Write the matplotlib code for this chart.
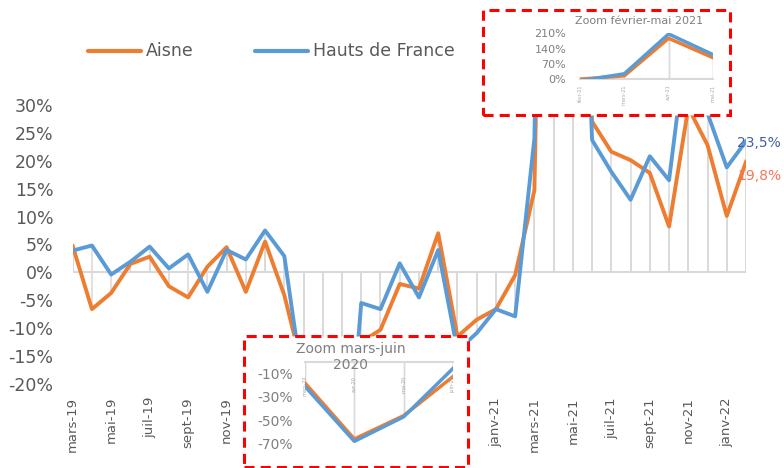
import matplotlib

matplotlib.use("Agg")
import matplotlib.pyplot as plt
import numpy as np
from matplotlib.lines import Line2D
from matplotlib.patches import Rectangle

# monthly change vs same month of previous year (%)
MONTHS = [
    "mars-19", "avr-19", "mai-19", "juin-19", "juil-19", "août-19", "sept-19",
    "oct-19", "nov-19", "déc-19", "janv-20", "févr-20", "mars-20", "avr-20",
    "mai-20", "juin-20", "juil-20", "août-20", "sept-20", "oct-20", "nov-20",
    "déc-20", "janv-21", "févr-21", "mars-21", "avr-21", "mai-21", "juin-21",
    "juil-21", "août-21", "sept-21", "oct-21", "nov-21", "déc-21", "janv-22",
    "févr-22",
]
AISNE = [
    4.7, -6.6, -3.7, 1.5, 2.8, -2.5, -4.5, 1.0, 4.5, -3.5, 5.5, -4.1,
    -18, -66, -46, -12.5, -10.3, -2.1, -2.9, 7.0, -11.5, -8.5, -6.6, -0.5,
    14.7, 187, 98, 27.0, 21.6, 20.1, 17.8, 8.2, 29.5, 22.8, 10.1, 19.8,
]
HDF = [
    3.9, 4.8, -0.4, 1.9, 4.6, 0.7, 3.2, -3.5, 4.0, 2.3, 7.5, 2.9,
    -21, -68, -47, -5.5, -6.6, 1.6, -4.5, 4.0, -14, -10.9, -6.6, -7.9,
    24, 207, 112, 23.7, 18.0, 13.0, 20.8, 16.5, 44, 28.5, 18.8, 23.5,
]
ZOOM1 = slice(12, 16)  # mars-juin 2020
ZOOM2 = slice(23, 27)  # février-mai 2021

ORANGE = "#ED7D31"
BLUE = "#5B9BD5"
GRID = "#D9D9D9"
TXT = "#595959"
LIGHT = "#7F7F7F"

W, H = 784, 468


def fx(px):
    return px / W


def fy(py):
    return 1 - py / H


fig = plt.figure(figsize=(W / 100, H / 100), dpi=100)

# main chart
ax = fig.add_axes([fx(72.7), fy(383.9), (746 - 72.7) / W, (383.9 - 104.9) / H])
x = np.arange(len(MONTHS))
ax.vlines(x, 0, AISNE, color=GRID, lw=1.1, zorder=1)
ax.vlines(x, 0, HDF, color=GRID, lw=1.1, zorder=1)
ax.axhline(0, color=GRID, lw=1.5, zorder=1)
ax.plot(x, AISNE, color=ORANGE, lw=2.8, zorder=3)
ax.plot(x, HDF, color=BLUE, lw=2.8, zorder=3)
ax.set_xlim(0, len(MONTHS) - 1)
ax.set_ylim(-20, 30)
yt = list(range(-20, 31, 5))
ax.set_yticks(yt, [f"{v}%" for v in yt])
ax.set_xticks(x[::2], MONTHS[::2], rotation=90)
ax.tick_params(axis="y", length=0, pad=14, labelsize=12.5, labelcolor=TXT)
ax.tick_params(axis="x", length=0, pad=9.5, labelsize=9.5, labelcolor=TXT)
# labels janv-20 .. nov-20 sit under the zoom box
for lbl in ax.get_xticklabels()[5:11]:
    lbl.set_visible(False)
for s in ax.spines.values():
    s.set_visible(False)

ax.annotate("23,5%", (x[-1], HDF[-1]), xytext=(-9, -2), textcoords="offset pixels",
            ha="left", va="center", fontsize=10, color="#44619D")
ax.annotate("19,8%", (x[-1], AISNE[-1]), xytext=(-9, -14), textcoords="offset pixels",
            ha="left", va="center", fontsize=10, color="#F4775A")

# legend
fig.add_artist(Line2D([fx(88), fx(141)], [fy(51)] * 2, color=ORANGE, lw=3,
                      solid_capstyle="round"))
fig.text(fx(146), fy(51), "Aisne", fontsize=12.5, color=TXT, va="center")
fig.add_artist(Line2D([fx(255), fx(308)], [fy(51)] * 2, color=BLUE, lw=3,
                      solid_capstyle="round"))
fig.text(fx(313), fy(51), "Hauts de France", fontsize=12.5, color=TXT, va="center")


def zoom_box(x0, y0, x1, y1):
    r = Rectangle((fx(x0), fy(y1)), (x1 - x0) / W, (y1 - y0) / H,
                  transform=fig.transFigure, facecolor="white", edgecolor="#FF0000",
                  lw=2.2, ls=(0, (3.3, 2)), zorder=3)
    fig.add_artist(r)


def zoom_axes(rect, sl, ylim, yticks, label_y):
    ia = fig.add_axes(rect, zorder=4)
    ia.set_facecolor("none")
    xi = np.arange(len(MONTHS[sl]))
    ia.vlines(xi, 0, AISNE[sl], color=GRID, lw=1, zorder=1)
    ia.vlines(xi, 0, HDF[sl], color=GRID, lw=1, zorder=1)
    ia.axhline(0, color=GRID, lw=1.5, zorder=1, clip_on=False)
    ia.plot(xi, AISNE[sl], color=ORANGE, lw=2.5, zorder=3)
    ia.plot(xi, HDF[sl], color=BLUE, lw=2.5, zorder=3)
    ia.set_xlim(0, len(xi) - 1)
    ia.set_ylim(*ylim)
    ia.set_xticks([])
    ia.set_yticks(yticks, [f"{v}%" for v in yticks])
    for s in ia.spines.values():
        s.set_visible(False)
    for i, m in zip(xi, MONTHS[sl]):
        ia.text(i, label_y, m, rotation=90, ha="center", va="top", fontsize=3.5,
                color="#A6A6A6", clip_on=False)
    return ia


# zoom mars-juin 2020
zoom_box(244, 336, 468, 467)
z1 = zoom_axes([fx(305), fy(467), (453 - 305) / W, (467 - 362) / H], ZOOM1,
               (-90, 0), [-70, -50, -30, -10], -12)
z1.tick_params(axis="y", length=0, pad=9, labelsize=10, labelcolor=LIGHT)
fig.text(fx(351), fy(357), "Zoom mars-juin\n2020", ha="center", va="center",
         fontsize=10, color=LIGHT, linespacing=1.25, zorder=5)

# zoom fevrier-mai 2021
zoom_box(483, 10, 730, 115)
z2 = zoom_axes([fx(580), fy(79), (713 - 580) / W, (79 - 33.3) / H], ZOOM2,
               (0, 210), [0, 70, 140, 210], -25)
z2.tick_params(axis="y", length=0, pad=10, labelsize=8, labelcolor=LIGHT)
fig.text(fx(639), fy(21), "Zoom février-mai 2021", ha="center", va="center",
         fontsize=8, color=LIGHT, zorder=5)

fig.savefig("out.png", dpi=100)
